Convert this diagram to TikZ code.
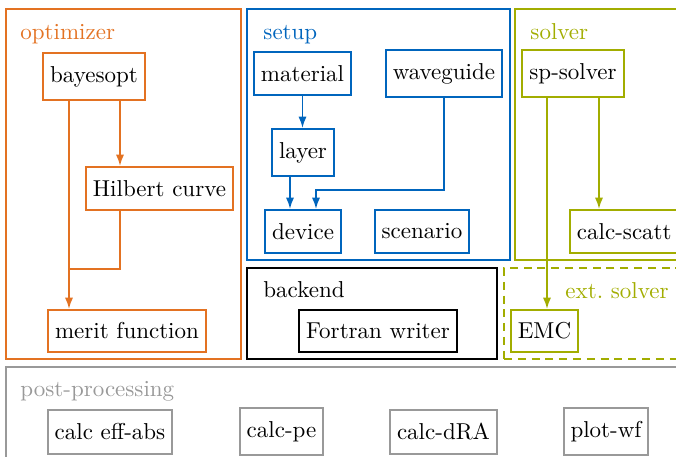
\documentclass[tikz,border=0pt]{standalone}
\usetikzlibrary{arrows.meta}
\definecolor{tumorange}{RGB}{227,114,34}
\definecolor{tumblue}{RGB}{0,101,189}
\definecolor{tumgreen}{RGB}{162,173,0}
\definecolor{tumgray}{RGB}{153,153,153}
\tikzset{
  px/.style n args={2}{minimum width=#1*0.4348pt, minimum height=#2*0.4348pt},
  box/.style={draw, line width=0.8pt, inner sep=0pt, text=black},
  frame/.style={draw, line width=0.8pt, inner sep=0pt},
  grouplabel/.style={anchor=base west, inner sep=0pt},
  arr/.style={line width=0.8pt, -{Latex[length=5pt,width=3.6pt]}},
  link/.style={line width=0.8pt},
}
\begin{document}
\begin{tikzpicture}[x=0.4348pt, y=-0.4348pt]
\useasboundingbox (0,0) rectangle (676,457);

% group frames
\node[frame, draw=tumorange, px={235}{350}] (optgrp) at (123.5,184) {};
\node[frame, draw=tumblue, px={263}{251}] (setupgrp) at (378.5,134.5) {};
\node[frame, draw=tumgreen, px={185}{251}] (solvergrp) at (607.5,134.5) {};
\node[frame, draw=black, px={250}{91}] (backendgrp) at (372,313.5) {};
\node[frame, draw=tumgreen, dash pattern=on 3.5pt off 2.5pt, px={196}{91}] (extgrp) at (602,313.5) {};
\node[frame, draw=tumgray, px={694}{103}] (postgrp) at (353,418.5) {};

% group labels
\node[grouplabel, text=tumorange] (optlbl) at (20,40) {optimizer};
\node[grouplabel, text=tumblue] (setuplbl) at (263,40) {setup};
\node[grouplabel, text=tumgreen] (solverlbl) at (530,40) {solver};
\node[grouplabel, text=black] (backendlbl) at (263,298) {backend};
\node[grouplabel, text=tumgreen] (extlbl) at (565,299) {ext.\ solver};
\node[grouplabel, text=tumgray] (postlbl) at (20,397) {post-processing};

% optimizer
\node[box, draw=tumorange, px={102}{47}] (bayesopt) at (94,76.5) {bayesopt};
\node[box, draw=tumorange, px={147}{43}] (hilbert) at (159.5,188.5) {Hilbert curve};
\node[box, draw=tumorange, px={158}{42}] (merit) at (127,331) {merit function};

% setup
\node[box, draw=tumblue, px={97}{43}] (material) at (302.5,73.5) {material};
\node[box, draw=tumblue, px={116}{47}] (waveguide) at (444,73.5) {waveguide};
\node[box, draw=tumblue, px={62}{47}] (layer) at (303,152.5) {layer};
\node[box, draw=tumblue, px={76}{43}] (device) at (303,231.5) {device};
\node[box, draw=tumblue, px={94}{43}] (scenario) at (422,231.5) {scenario};

% solver
\node[box, draw=tumgreen, px={102}{47}] (spsolver) at (573,73.5) {sp-solver};
\node[box, draw=tumgreen, px={109}{43}] (calcscatt) at (624.3,231.5) {calc-scatt};
\node[box, draw=tumgreen, px={67}{42}] (emc) at (544.5,331) {EMC};

% backend
\node[box, draw=black, px={158}{42}] (fortran) at (378,331) {Fortran writer};

% post-processing
\node[box, draw=tumgray, px={124}{44}] (effabs) at (110,432) {calc eff-abs};
\node[box, draw=tumgray, px={83}{47}] (calcpe) at (281.5,431.5) {calc-pe};
\node[box, draw=tumgray, px={107}{44}] (calcdra) at (443.5,432) {calc-dRA};
\node[box, draw=tumgray, px={84}{47}] (plotwf) at (606,431.5) {plot-wf};

% connector routing points
\coordinate (jx) at (69,269);
\coordinate (hx) at (120,269);
\coordinate (ld) at (290,190);
\coordinate (wd) at (316,190);
\coordinate (sc) at (599,0);
\coordinate (em) at (547,0);

% optimizer connectors
\draw[arr, tumorange] (jx |- bayesopt.south) -- (jx |- merit.north);
\draw[arr, tumorange] (hx |- bayesopt.south) -- (hx |- hilbert.north);
\draw[link, tumorange] (hx |- hilbert.south) -- (hx) -- (jx);

% setup connectors
\draw[arr, tumblue] (material.south) -- (material.south |- layer.north);
\draw[arr, tumblue] (ld |- layer.south) -- (ld |- device.north);
\draw[arr, tumblue] (waveguide.south) |- (wd) -- (wd |- device.north);

% solver connectors
\draw[arr, tumgreen] (sc |- spsolver.south) -- (sc |- calcscatt.north);
\draw[arr, tumgreen] (em |- spsolver.south) -- (em |- emc.north);
\end{tikzpicture}
\end{document}
